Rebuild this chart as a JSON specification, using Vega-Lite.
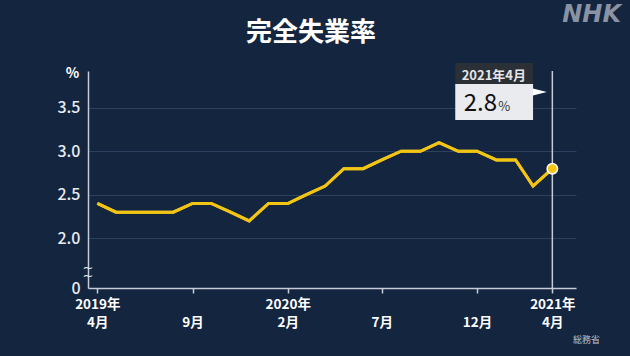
{
  "$schema": "https://vega.github.io/schema/vega-lite/v6.json",
  "width": 488,
  "height": 217,
  "autosize": {"type": "none"},
  "padding": {"left": 88, "top": 71, "right": 54, "bottom": 68},
  "background": "#13253f",
  "config": {"view": {"stroke": null}, "font": "Noto Sans CJK JP"},
  "title": {"text": "完全失業率", "color": "#ffffff", "fontSize": 26, "fontWeight": "bold", "anchor": "middle", "frame": "group", "dx": -21, "offset": -43, "font": "Noto Sans CJK JP"},
  "datasets": {
    "rates": [
      {"month": "2019/04/01", "rate": 2.4},
      {"month": "2019/05/01", "rate": 2.3},
      {"month": "2019/06/01", "rate": 2.3},
      {"month": "2019/07/01", "rate": 2.3},
      {"month": "2019/08/01", "rate": 2.3},
      {"month": "2019/09/01", "rate": 2.4},
      {"month": "2019/10/01", "rate": 2.4},
      {"month": "2019/11/01", "rate": 2.3},
      {"month": "2019/12/01", "rate": 2.2},
      {"month": "2020/01/01", "rate": 2.4},
      {"month": "2020/02/01", "rate": 2.4},
      {"month": "2020/03/01", "rate": 2.5},
      {"month": "2020/04/01", "rate": 2.6},
      {"month": "2020/05/01", "rate": 2.8},
      {"month": "2020/06/01", "rate": 2.8},
      {"month": "2020/07/01", "rate": 2.9},
      {"month": "2020/08/01", "rate": 3.0},
      {"month": "2020/09/01", "rate": 3.0},
      {"month": "2020/10/01", "rate": 3.1},
      {"month": "2020/11/01", "rate": 3.0},
      {"month": "2020/12/01", "rate": 3.0},
      {"month": "2021/01/01", "rate": 2.9},
      {"month": "2021/02/01", "rate": 2.9},
      {"month": "2021/03/01", "rate": 2.6},
      {"month": "2021/04/01", "rate": 2.8}
    ],
    "one": [{}]
  },
  "layer": [
    {
      "data": {"name": "rates"},
      "mark": {"type": "line", "color": "#f2c414", "strokeWidth": 3},
      "encoding": {
        "x": {
          "field": "month", "type": "temporal",
          "scale": {"domain": [{"year": 2019, "month": 3, "date": 17}, {"year": 2021, "month": 5, "date": 9}]},
          "axis": {
            "values": [{"year": 2019, "month": 4, "date": 1}, {"year": 2019, "month": 9, "date": 1}, {"year": 2020, "month": 2, "date": 1}, {"year": 2020, "month": 7, "date": 1}, {"year": 2020, "month": 12, "date": 1}, {"year": 2021, "month": 4, "date": 1}],
            "labelExpr": "(timeFormat(datum.value,'%m')=='04' || timeFormat(datum.value,'%Y-%m')=='2020-02') ? [timeFormat(datum.value,'%Y年'), timeFormat(datum.value,'%-m月')] : ['', timeFormat(datum.value,'%-m月')]",
            "labelFont": "Noto Sans CJK JP", "labelFontSize": 13.5, "labelFontWeight": "bold", "labelColor": "#ffffff",
            "labelLineHeight": 18, "labelPadding": 4, "labelFlush": false, "labelOverlap": false,
            "tickSize": 5, "tickColor": "#c5ccd6", "tickWidth": 1.5,
            "domainColor": "#c5ccd6", "domainWidth": 1.5, "grid": false,
            "title": "総務省", "titleFontSize": 9, "titleColor": "#b9c0cb", "titleFontWeight": "normal",
            "titleX": 498, "titleY": 51, "titleAlign": "center", "titleBaseline": "middle"
          }
        },
        "y": {
          "field": "rate", "type": "quantitative",
          "scale": {"domain": [1.429, 3.922], "zero": false, "nice": false},
          "axis": {
            "values": [1.429, 2, 2.5, 3, 3.5],
            "labelExpr": "datum.value < 1.5 ? '0' : format(datum.value, '.1f')",
            "labelFontSize": 16, "labelColor": "#e8ebf0", "labelFontWeight": 500, "labelPadding": 8,
            "ticks": false, "domainColor": "#c5ccd6", "domainWidth": 1.5,
            "gridColor": "#2c4060", "gridWidth": 1,
            "title": "%", "titleAngle": 0, "titleX": -16, "titleY": 2, "titleAlign": "center", "titleBaseline": "middle",
            "titleFontSize": 14, "titleFontWeight": "bold", "titleColor": "#ffffff"
          }
        }
      }
    },
    {
      "data": {"name": "one"},
      "mark": {"type": "rule", "color": "#c5ccd6", "strokeWidth": 1.5},
      "encoding": {"x": {"datum": {"year": 2021, "month": 4, "date": 1}, "type": "temporal"}}
    },
    {
      "data": {"name": "rates"},
      "mark": {"type": "line", "color": "#f2c414", "strokeWidth": 3},
      "encoding": {
        "x": {"field": "month", "type": "temporal"},
        "y": {"field": "rate", "type": "quantitative"}
      }
    },
    {
      "data": {"name": "rates"},
      "transform": [{"filter": "year(datum.month) == 2021 && month(datum.month) == 3"}],
      "mark": {"type": "point", "filled": true, "fill": "#f5c518", "stroke": "#ffffff", "strokeWidth": 1.5, "size": 110, "opacity": 1},
      "encoding": {
        "x": {"field": "month", "type": "temporal"},
        "y": {"field": "rate", "type": "quantitative"}
      }
    },
    {
      "data": {"name": "one"},
      "mark": {"type": "rect", "color": "#2b2f36"},
      "encoding": {
        "x": {"datum": {"year": 2020, "month": 10, "date": 27}, "type": "temporal"},
        "x2": {"datum": {"year": 2021, "month": 3, "date": 1}},
        "y": {"datum": 4.014, "type": "quantitative"},
        "y2": {"datum": 3.773}
      }
    },
    {
      "data": {"name": "one"},
      "mark": {"type": "rect", "color": "#e9ebee"},
      "encoding": {
        "x": {"datum": {"year": 2020, "month": 10, "date": 27}, "type": "temporal"},
        "x2": {"datum": {"year": 2021, "month": 3, "date": 1}},
        "y": {"datum": 3.773, "type": "quantitative"},
        "y2": {"datum": 3.359}
      }
    },
    {
      "data": {"name": "one"},
      "mark": {"type": "point", "shape": "M-1,-0.5L1,0L-1,0.5Z", "filled": true, "color": "#ffffff", "size": 196, "opacity": 1},
      "encoding": {
        "x": {"datum": {"year": 2021, "month": 3, "date": 12}, "type": "temporal"},
        "y": {"datum": 3.681, "type": "quantitative"}
      }
    },
    {
      "data": {"name": "one"},
      "mark": {"type": "text", "align": "center", "baseline": "middle", "fontSize": 13, "fontWeight": "bold", "color": "#e4e6ea", "font": "Noto Sans CJK JP"},
      "encoding": {
        "x": {"datum": {"year": 2020, "month": 12, "date": 28}, "type": "temporal"},
        "y": {"datum": 3.865, "type": "quantitative"},
        "text": {"value": "2021年4月"}
      }
    },
    {
      "data": {"name": "rates"},
      "transform": [{"filter": "year(datum.month) == 2021 && month(datum.month) == 3"}],
      "mark": {"type": "text", "align": "right", "baseline": "alphabetic", "fontSize": 24, "fontWeight": "normal", "color": "#111111", "font": "Noto Sans CJK JP"},
      "encoding": {
        "x": {"datum": {"year": 2021, "month": 1, "date": 2}, "type": "temporal"},
        "y": {"datum": 3.462, "type": "quantitative"},
        "text": {"field": "rate", "type": "quantitative", "format": ".1f"}
      }
    },
    {
      "data": {"name": "one"},
      "mark": {"type": "text", "align": "left", "baseline": "alphabetic", "fontSize": 13, "color": "#333333", "font": "Noto Sans CJK JP"},
      "encoding": {
        "x": {"datum": {"year": 2021, "month": 1, "date": 4}, "type": "temporal"},
        "y": {"datum": 3.462, "type": "quantitative"},
        "text": {"value": "%"}
      }
    },
    {
      "data": {"name": "one"},
      "mark": {"type": "text", "align": "center", "baseline": "middle", "fontSize": 13, "lineHeight": 8, "color": "#e8ebf0", "font": "DejaVu Sans"},
      "encoding": {
        "x": {"datum": {"year": 2019, "month": 3, "date": 17}, "type": "temporal"},
        "y": {"datum": 1.66, "type": "quantitative"},
        "text": {"value": ["~", "~"]}
      }
    },
    {
      "data": {"name": "one"},
      "mark": {"type": "text", "align": "right", "baseline": "middle", "fontSize": 24, "fontWeight": "bold", "fontStyle": "italic", "color": "#8a93a3", "font": "DejaVu Sans", "dx": 45},
      "encoding": {
        "x": {"datum": {"year": 2021, "month": 5, "date": 9}, "type": "temporal"},
        "y": {"datum": 4.56, "type": "quantitative"},
        "text": {"value": "NHK"}
      }
    }
  ]
}
